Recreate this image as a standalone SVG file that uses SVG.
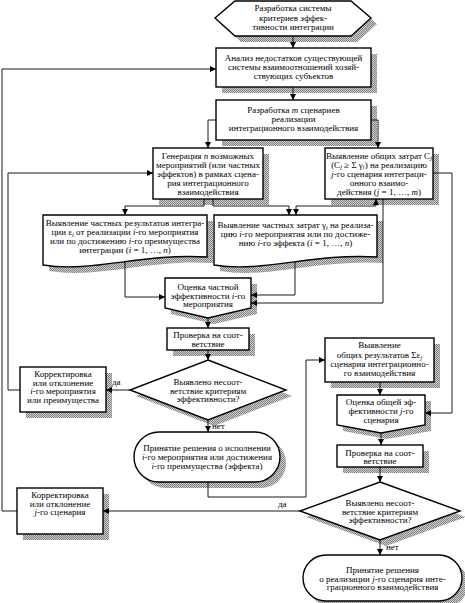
<svg xmlns="http://www.w3.org/2000/svg" width="465" height="603" viewBox="0 0 465 603">
<style>
text{font-family:"Liberation Serif","DejaVu Serif",serif;font-size:9px;fill:#000;text-anchor:middle}
.i{font-style:italic}
.s{font-size:6.5px}
.n{fill:#fff;stroke:#000;stroke-width:1.4}
.sh{fill:url(#hatch);stroke:none}
.c{fill:none;stroke:#000;stroke-width:0.9}
.a{marker-end:url(#ah)}
.lbl{text-anchor:start}
</style>
<defs>
<pattern id="hatch" width="2" height="2" patternUnits="userSpaceOnUse"><rect width="2" height="2" fill="#d0d0d0"/><rect width="1" height="1" fill="#808080"/><rect x="1" y="1" width="1" height="1" fill="#808080"/></pattern>
<marker id="ah" markerUnits="userSpaceOnUse" markerWidth="6" markerHeight="6" refX="6" refY="3" orient="auto"><path d="M0,0 L6,3 L0,6 z" fill="#000"/></marker>
<marker id="as" markerUnits="userSpaceOnUse" markerWidth="6" markerHeight="6" refX="0" refY="3" orient="auto"><path d="M6,0 L0,3 L6,6 z" fill="#000"/></marker>
</defs>
<rect width="465" height="603" fill="#fff"/>

<g id="n1">
<polygon class="sh" points="221,24 241,7 357,7 377,24 357,42 241,42"/>
<polygon class="n" points="215,18 235,1 351,1 371,18 351,36 235,36"/>
<text x="293" y="11">Разработка системы</text>
<text x="293" y="20.5">критериев эффек-</text>
<text x="293" y="30">тивности интеграции</text>
</g>

<g id="n2">
<rect class="sh" x="222" y="54" width="155" height="39"/>
<rect class="n" x="216" y="48" width="155" height="39"/>
<text x="293.5" y="60.5">Анализ недостатков существующей</text>
<text x="293.5" y="69.5">системы взаимоотношений хозяй-</text>
<text x="293.5" y="78.5">ствующих субъектов</text>
</g>

<g id="n3">
<rect class="sh" x="222" y="106" width="155" height="40"/>
<rect class="n" x="216" y="100" width="155" height="40"/>
<text x="293.5" y="113">Разработка <tspan class="i">m</tspan> сценариев</text>
<text x="293.5" y="122">реализации</text>
<text x="293.5" y="131">интеграционного взаимодействия</text>
</g>

<g id="n4">
<rect class="sh" x="159" y="154" width="110" height="51"/>
<rect class="n" x="153" y="148" width="110" height="51"/>
<text x="208" y="158.5">Генерация <tspan class="i">n</tspan> возможных</text>
<text x="208" y="167.5">мероприятий (или частных</text>
<text x="208" y="176.5">эффектов) в рамках сцена-</text>
<text x="208" y="185.5">рия интеграционного</text>
<text x="208" y="194.5">взаимодействия</text>
</g>

<g id="n5">
<rect class="sh" x="331" y="154" width="108" height="51"/>
<rect class="n" x="325" y="148" width="108" height="51"/>
<text x="379" y="158.5">Выявление общих затрат C<tspan class="i s" dy="1.5">j</tspan></text>
<text x="379" y="167.5">(C<tspan class="i s" dy="1.5">j</tspan><tspan dy="-1.5">  ≥ Σ γ</tspan><tspan class="i s" dy="1.5">i</tspan><tspan dy="-1.5">) на реализацию</tspan></text>
<text x="379" y="176.5"><tspan class="i">j</tspan>-го сценария интеграци-</text>
<text x="379" y="185.5">онного взаимо-</text>
<text x="379" y="194.5">действия (<tspan class="i">j</tspan> = 1, …, <tspan class="i">m</tspan>)</text>
</g>

<g id="n6">
<path class="sh" d="M49,221 H213 V263 C147.4,259 98.2,279 49,271 Z"/>
<path class="n" d="M43,215 H207 V257 C141.4,253 92.2,273 43,265 Z"/>
<text x="125" y="226">Выявление частных результатов интегра-</text>
<text x="125" y="235">ции ε<tspan class="i s" dy="1.5">i</tspan><tspan dy="-1.5"> от реализации </tspan><tspan class="i">i</tspan>-го мероприятия</text>
<text x="125" y="244">или по достижению <tspan class="i">i</tspan>-го преимущества</text>
<text x="125" y="253">интеграции (<tspan class="i">i</tspan> = 1, …, <tspan class="i">n</tspan>)</text>
</g>

<g id="n7">
<path class="sh" d="M220,221 H383 V263 C317.8,259 268.9,279 220,271 Z"/>
<path class="n" d="M214,215 H377 V257 C311.8,253 262.9,273 214,265 Z"/>
<text x="295.5" y="228">Выявление частных затрат γ<tspan class="i s" dy="1.5">i</tspan><tspan dy="-1.5">  на реализа-</tspan></text>
<text x="295.5" y="237">цию <tspan class="i">i</tspan>-го мероприятия или по достиже-</text>
<text x="295.5" y="246">нию <tspan class="i">i</tspan>-го эффекта (<tspan class="i">i</tspan> = 1, …, <tspan class="i">n</tspan>)</text>
</g>

<g id="n8">
<polygon class="sh" points="171,284 257,284 257,314 214,324 171,314"/>
<polygon class="n" points="165,278 251,278 251,308 208,318 165,308"/>
<text x="208" y="290">Оценка частной</text>
<text x="208" y="298.5">эффективности <tspan class="i">i</tspan>-го</text>
<text x="208" y="307">мероприятия</text>
</g>

<g id="n9">
<rect class="sh" x="173" y="334" width="82" height="22"/>
<rect class="n" x="167" y="328" width="82" height="22"/>
<text x="208" y="338">Проверка на соот-</text>
<text x="208" y="346.5">ветствие</text>
</g>

<g id="n10">
<polygon class="sh" points="214,366 292,396 214,426 136,396"/>
<polygon class="n" points="208,360 286,390 208,420 130,390"/>
<text x="208" y="385">Выявлено несоот-</text>
<text x="208" y="393.5">ветствие критериям</text>
<text x="208" y="402">эффективности?</text>
</g>

<g id="n11">
<rect class="sh" x="26" y="373" width="86" height="45"/>
<rect class="n" x="20" y="367" width="86" height="45"/>
<text x="63" y="377">Корректировка</text>
<text x="63" y="385.5">или отклонение</text>
<text x="63" y="394"><tspan class="i">i</tspan>-го мероприятия</text>
<text x="63" y="402.5">или преимущества</text>
</g>

<g id="n12">
<rect class="sh" x="140" y="438" width="146" height="50" rx="25"/>
<rect class="n" x="134" y="432" width="146" height="50" rx="25"/>
<text x="207" y="451">Принятие решения о исполнении</text>
<text x="207" y="460"><tspan class="i">i</tspan>-го мероприятия или достижения</text>
<text x="207" y="469"><tspan class="i">i</tspan>-го преимущества (эффекта)</text>
</g>

<g id="n13">
<rect class="sh" x="331" y="344" width="109" height="44"/>
<rect class="n" x="325" y="338" width="109" height="44"/>
<text x="379.5" y="348">Выявление</text>
<text x="379.5" y="358">общих результатов Σε<tspan class="i s" dy="1.5">j</tspan></text>
<text x="379.5" y="367">сценария интеграционно-</text>
<text x="379.5" y="376">го взаимодействия</text>
</g>

<g id="n14">
<polygon class="sh" points="343,401 431,401 431,431 387,439 343,431"/>
<polygon class="n" points="337,395 425,395 425,425 381,433 337,425"/>
<text x="381" y="405">Оценка общей эф-</text>
<text x="381" y="414">фективности <tspan class="i">j</tspan>-го</text>
<text x="381" y="422.5">сценария</text>
</g>

<g id="n15">
<rect class="sh" x="343" y="451" width="86" height="22"/>
<rect class="n" x="337" y="445" width="86" height="22"/>
<text x="380" y="455.5">Проверка на соот-</text>
<text x="380" y="464">ветствие</text>
</g>

<g id="n16">
<polygon class="sh" points="386,488 466,517 386,546 306,517"/>
<polygon class="n" points="380,482 460,511 380,540 300,511"/>
<text x="380" y="506">Выявлено несоот-</text>
<text x="380" y="514.5">ветствие критериям</text>
<text x="380" y="523">эффективности?</text>
</g>

<g id="n17">
<rect class="sh" x="23" y="494" width="86" height="46"/>
<rect class="n" x="17" y="488" width="86" height="46"/>
<text x="60" y="498">Корректировка</text>
<text x="60" y="506.5">или отклонение</text>
<text x="60" y="515"><tspan class="i">j</tspan>-го сценария</text>
</g>

<g id="n18">
<rect class="sh" x="309" y="561" width="159" height="46" rx="23"/>
<rect class="n" x="303" y="555" width="159" height="46" rx="23"/>
<text x="382.5" y="573">Принятие решения</text>
<text x="382.5" y="581.5">о реализации <tspan class="i">j</tspan>-го сценария инте-</text>
<text x="382.5" y="590">грационного взаимодействия</text>
</g>

<g id="connectors">
<path class="c a" d="M293,36 V48"/>
<path class="c a" d="M293,87 V100"/>
<path class="c a" d="M216,120 H208 V148"/>
<path class="c a" d="M371,120 H378 V148"/>
<path class="c a" d="M204,199 V206 H125 V215"/>
<path class="c a" d="M213,199 V206 H289 V215"/>
<path class="c a" d="M296,215 V206 H376 V199" marker-start="url(#as)"/>
<path class="c a" d="M383,199 V303 H251"/>
<path class="c a" d="M125,262 V297 H165"/>
<path class="c a" d="M295,262 V295 H251"/>
<path class="c a" d="M208,318 V328"/>
<path class="c a" d="M208,350 V360"/>
<path class="c a" d="M130,390 H106"/>
<path class="c a" d="M20,390 H8 V173 H153"/>
<path class="c a" d="M208,420 V432"/>
<path class="c a" d="M208,482 V497 H306 V360 H325"/>
<path class="c a" d="M380,382 V395"/>
<path class="c a" d="M433,173 H452 V413 H425"/>
<path class="c a" d="M381,433 V445"/>
<path class="c a" d="M380,467 V482"/>
<path class="c a" d="M300,511 H103"/>
<path class="c a" d="M17,511 H2 V69 H216"/>
<path class="c a" d="M380,540 V555"/>
<text class="lbl" x="112" y="385">да</text>
<text class="lbl" x="212" y="429">нет</text>
<text class="lbl" x="278" y="507">да</text>
<text class="lbl" x="386" y="550">нет</text>
</g>
</svg>
